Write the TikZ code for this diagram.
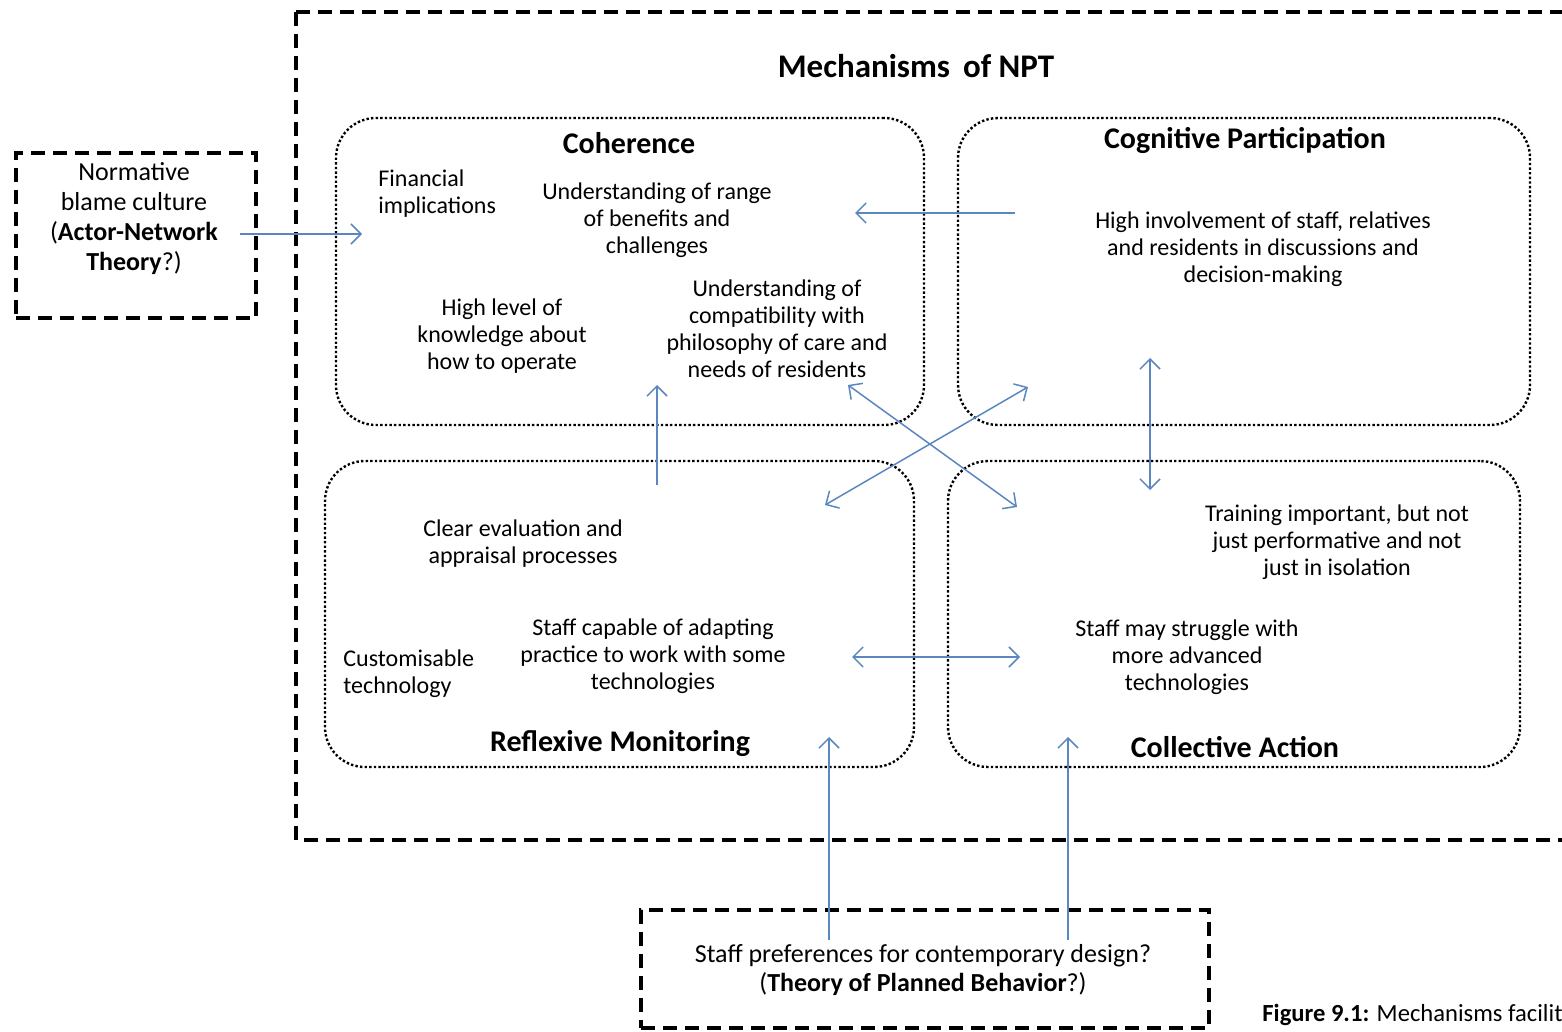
\documentclass[tikz,border=0pt]{standalone}
\usepackage{fontspec}
\setmainfont{Carlito}
\usetikzlibrary{arrows.meta}
\definecolor{arrowblue}{HTML}{5B87C0}

\begin{document}
\begin{tikzpicture}[x=0.5pt,y=-0.5pt]
\useasboundingbox (0,0) rectangle (1562,1032);
\clip (0,0) rectangle (1562,1032);
 \tikzstyle{dotbox}=[draw, dash pattern=on 1.2pt off 1.1pt, line width=1.2pt, rounded corners=20pt, inner sep=0pt]
 \tikzstyle{dashbox}=[draw, dash pattern=on 7pt off 4pt, line width=2pt]
 \tikzstyle{txt}=[align=center, inner sep=0pt, font=\fontsize{12}{13.5}\selectfont]
 \tikzstyle{ttl}=[inner sep=0pt, font=\fontsize{15}{18}\selectfont\bfseries]
 \tikzstyle{arr}=[draw=arrowblue, line width=0.75pt, -{Straight Barb[length=5pt,width=10pt]}]
 \tikzstyle{arrr}=[draw=arrowblue, line width=0.75pt, {Straight Barb[length=5pt,width=10pt]}-{Straight Barb[length=5pt,width=10pt]}]
% outer box
\draw[dashbox] (296,12) rectangle (1620,840);
\node[ttl, font=\fontsize{16.5}{19}\selectfont\bfseries](npt) at (916,66){Mechanisms\, of NPT};
% the four mechanisms
\node[dotbox, minimum width=294pt, minimum height=153.5pt](coh) at (630,271.5){};
\node[dotbox, minimum width=286pt, minimum height=153.5pt](cog) at (1244,271.5){};
\node[dotbox, minimum width=294.5pt, minimum height=153pt](ref) at (619.5,614){};
\node[dotbox, minimum width=286pt, minimum height=153pt](col) at (1234,614){};
\node[ttl](cohT) at (629,143){Coherence};
\node[ttl](cogT) at (1245,140){Cognitive Participation};
\node[ttl](refT) at (620,744){Reflexive Monitoring};
\node[ttl](colT) at (1235,747){Collective Action};
% texts
\node[txt, align=left, anchor=west](fin) at (378,194){Financial\\implications};
\node[txt](range) at (657,220.5){Understanding of range\\of benefits and\\challenges};
\node[txt](know) at (502,336.5){High level of\\knowledge about\\how to operate};
\node[txt](compat) at (777,329){Understanding of\\compatibility with\\philosophy of care and\\needs of residents};
\node[txt](involve) at (1263,249){High involvement of staff, relatives\\and residents in discussions and\\decision-making};
\node[txt](clear) at (523,543.5){Clear evaluation and\\appraisal processes};
\node[txt](adapt) at (653,656.5){Staff capable of adapting\\practice to work with some\\technologies};
\node[txt, align=left, anchor=west](custom) at (343,673.5){Customisable\\technology};
\node[txt](train) at (1337,542){Training important, but not\\just performative and not\\just in isolation};
\node[txt](strug) at (1187,657.5){Staff may struggle with\\more advanced\\technologies};
% outside theories
\node[dashbox, minimum width=120pt, minimum height=82.5pt](ant) at (136,235.5){};
\node[txt, font=\fontsize{13}{15}\selectfont](antT) at (134,219){Normative\\blame culture\\(\textbf{Actor-Network}\\\textbf{Theory}?)};
\node[dashbox, minimum width=284pt, minimum height=59pt](tpb) at (925,969){};
\node[txt, font=\fontsize{13}{14.5}\selectfont](tpbT) at (923,970.5){Staff preferences for contemporary design?\\(\textbf{Theory of Planned Behavior}?)};
\node[inner sep=0pt, anchor=west, font=\fontsize{12.3}{14}\selectfont](cap) at (1262,1015){\textbf{Figure 9.1:} Mechanisms facilit};
% arrow ends
\coordinate (a1) at (240,234); \coordinate (a2) at (362,234);
\coordinate (b1) at (1015,213); \coordinate (b2) at (855,213);
\coordinate (c1) at (657,485); \coordinate (c2) at (657,385);
\coordinate (d1) at (848,385); \coordinate (d2) at (1017,507);
\coordinate (e1) at (1028,387); \coordinate (e2) at (825,505);
\coordinate (f1) at (1150,358); \coordinate (f2) at (1150,490);
\coordinate (g1) at (852,657); \coordinate (g2) at (1020,657);
\coordinate (h1) at (829,940); \coordinate (h2) at (829,737);
\coordinate (k1) at (1068,940); \coordinate (k2) at (1068,737);
 \foreach \i/\j in {a1/a2,b1/b2,c1/c2,h1/h2,k1/k2}{\draw[arr] (\i) -- (\j);}
 \foreach \i/\j in {d1/d2,e1/e2,f1/f2,g1/g2}{\draw[arrr] (\i) -- (\j);}
\end{tikzpicture}
\end{document}
